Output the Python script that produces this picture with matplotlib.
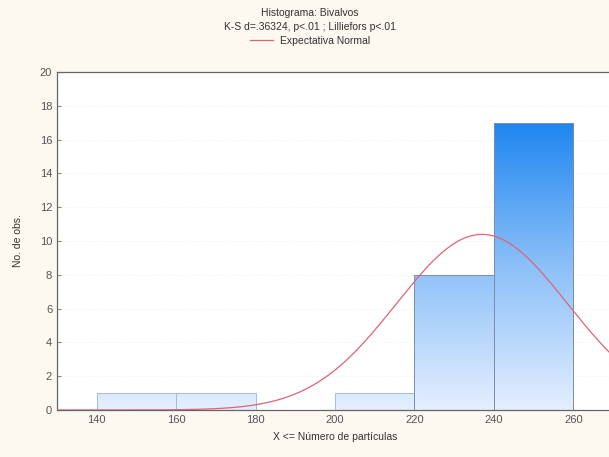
import numpy as np
import matplotlib.pyplot as plt
from matplotlib.colors import LinearSegmentedColormap
from matplotlib.patches import Rectangle
from matplotlib.lines import Line2D

plt.rcParams['font.family'] = ['Liberation Sans', 'DejaVu Sans']

# histogram bins (left edges) and counts
bin_left = [140, 160, 180, 200, 220, 240]
bin_width = 20
counts = [1, 1, 0, 1, 8, 17]

# fitted normal used for the expected curve
fit_mean = 237.0
fit_sd = 21.5
n_obs = sum(counts)

xticks = [140, 160, 180, 200, 220, 240, 260]
yticks = [0, 2, 4, 6, 8, 10, 12, 14, 16, 18, 20]

fig = plt.figure(figsize=(6.09, 4.57), dpi=100, facecolor='#fdf8f0')
ax = fig.add_axes([57 / 609, 47 / 457, 556 / 609, 338 / 457])
ax.set_facecolor('white')
ax.set_xlim(130, 270)
ax.set_ylim(0, 20)

cmap = LinearSegmentedColormap.from_list('blu', ['#e4efff', '#8cc0f8', '#1f86f0'])
grad = np.linspace(0, 1, 256).reshape(-1, 1)
top = max(counts)
for left, c in zip(bin_left, counts):
    if c == 0:
        continue
    frac = c / top
    sub = grad[: max(2, int(256 * frac))]
    im = ax.imshow(sub, cmap=cmap, vmin=0, vmax=1, origin='lower', aspect='auto',
                   extent=(left, left + bin_width, 0, c), zorder=2)
    edge = '#7b8cae' if c > 2 else '#aabbd8'
    rect = Rectangle((left, 0), bin_width, c, facecolor='none',
                     edgecolor=edge, lw=0.7, zorder=3)
    ax.add_patch(rect)
    im.set_clip_path(rect)

xs = np.linspace(130, 275, 400)
expected = n_obs * bin_width / (fit_sd * np.sqrt(2 * np.pi)) * np.exp(-0.5 * ((xs - fit_mean) / fit_sd) ** 2)
ax.plot(xs, expected, color='#dc6478', lw=0.9, zorder=4)

ax.set_xticks(xticks)
ax.set_yticks(yticks)
ax.tick_params(direction='in', length=3, color='#888888', labelcolor='#555555', labelsize=8)
ax.grid(axis='y', color='#eeeeee', lw=0.6, linestyle=':')
ax.set_axisbelow(True)
for s in ax.spines.values():
    s.set_color('#666666')
    s.set_linewidth(0.9)

ax.set_xlabel('X <= Número de partículas', fontsize=7.5, color='#333333', labelpad=5)
ax.set_ylabel('No. de obs.', fontsize=7.5, color='#333333', labelpad=12)

fig.text(310 / 609, 1 - 13 / 457, 'Histograma: Bivalvos', ha='center', va='center',
         fontsize=7.5, color='#333333')
fig.text(310 / 609, 1 - 27 / 457, 'K-S d=.36324, p<.01 ; Lilliefors p<.01', ha='center',
         va='center', fontsize=7.5, color='#333333')
fig.legend(handles=[Line2D([], [], color='#dc6478', lw=0.9)], labels=['Expectativa Normal'],
           loc='center', bbox_to_anchor=(310 / 609, 1 - 41 / 457), frameon=False,
           fontsize=7.5, handlelength=2.2, handletextpad=0.6, labelcolor='#333333')

fig.savefig('out.png', dpi=100, facecolor=fig.get_facecolor())
